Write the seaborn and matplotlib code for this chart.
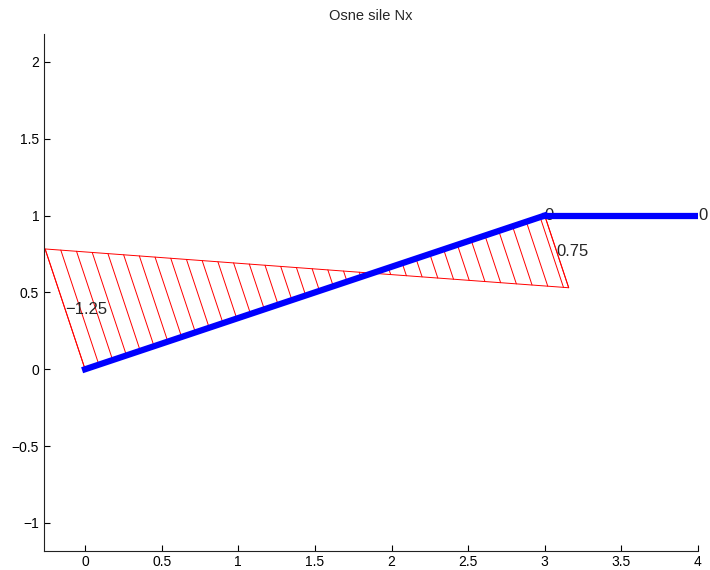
import numpy as np
import pandas as pd
import matplotlib
matplotlib.use("Agg")
import matplotlib.pyplot as plt
import seaborn as sns

# frame geometry and axial forces
node_x = [0, 3, 4]
node_y = [0, 1, 1]
members = [(0, 1), (1, 2)]
n_start = [-1.25, 0]
n_end = [0.75, 0]
scale = 0.66

sns.set_style("ticks")
plt.rcParams['font.family'] = ['Liberation Sans', 'DejaVu Sans']

fig = plt.figure(figsize=(7.1, 5.7), dpi=100)
ax = fig.add_axes([0.062, 0.034, 0.921, 0.906])

rows = []
for k, (a, b) in enumerate(members):
    rows.append({"member": k, "x": node_x[a], "y": node_y[a], "pt": 0})
    rows.append({"member": k, "x": node_x[b], "y": node_y[b], "pt": 1})
frame = pd.DataFrame(rows)

# diagram: outline + hatching perpendicular to each member
for k, (a, b) in enumerate(members):
    x0, y0, x1, y1 = node_x[a], node_y[a], node_x[b], node_y[b]
    L = np.hypot(x1 - x0, y1 - y0)
    nx, ny = -(y1 - y0) / L, (x1 - x0) / L
    p0 = (x0 - n_start[k] * scale * nx, y0 - n_start[k] * scale * ny)
    p1 = (x1 - n_end[k] * scale * nx, y1 - n_end[k] * scale * ny)
    if n_start[k] != 0 or n_end[k] != 0:
        ax.plot([x0, p0[0], p1[0], x1], [y0, p0[1], p1[1], y1], color="red", lw=0.7)
        ts = np.append(np.arange(0, 1, 0.03), 1.0)
        for t in ts:
            bx, by = x0 + t * (x1 - x0), y0 + t * (y1 - y0)
            v = n_start[k] + t * (n_end[k] - n_start[k])
            ax.plot([bx, bx - v * scale * nx], [by, by - v * scale * ny], color="red", lw=0.7)
    ax.text((x0 + p0[0]) / 2, (y0 + p0[1]) / 2, f"{n_start[k]:g}".replace("-", "\u2212"),
            ha="left", va="center", fontsize=12)
    ax.text((x1 + p1[0]) / 2, (y1 + p1[1]) / 2, f"{n_end[k]:g}".replace("-", "\u2212"),
            ha="left", va="center", fontsize=12)

sns.lineplot(data=frame, x="x", y="y", units="member", estimator=None, sort=False,
             color="blue", lw=4.5, ax=ax, zorder=5, solid_capstyle="projecting")

ax.set_xlim(-0.268, 4)
ax.set_ylim(-1.18, 2.18)
ax.set_xticks([0, 0.5, 1, 1.5, 2, 2.5, 3, 3.5, 4])
ax.set_yticks([-1, -0.5, 0, 0.5, 1, 1.5, 2])
ax.set_xticklabels(["0", "0.5", "1", "1.5", "2", "2.5", "3", "3.5", "4"])
ax.set_yticklabels(["\u22121", "\u22120.5", "0", "0.5", "1", "1.5", "2"])
ax.tick_params(direction="in", length=4, width=0.8, labelsize=10, colors="black")
ax.set_xlabel("")
ax.set_ylabel("")
sns.despine(ax=ax)
for s in ["left", "bottom"]:
    ax.spines[s].set_color("#222222")
    ax.spines[s].set_linewidth(0.8)
ax.set_title("Osne sile Nx", fontsize=10.5, pad=10)

fig.savefig("out.png", dpi=100)
